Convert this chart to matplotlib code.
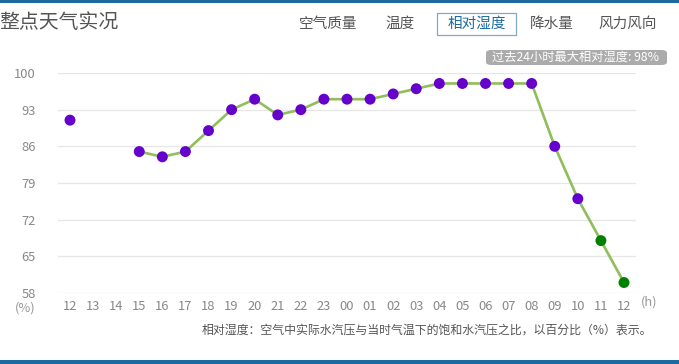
import numpy as np
import matplotlib
matplotlib.use("Agg")
import matplotlib.pyplot as plt
from matplotlib.patches import FancyBboxPatch, Rectangle

plt.rcParams['font.family'] = ['Noto Sans CJK SC', 'DejaVu Sans']

hours = ["12", "13", "14", "15", "16", "17", "18", "19", "20", "21", "22", "23",
         "00", "01", "02", "03", "04", "05", "06", "07", "08", "09", "10", "11", "12"]
humidity = [91, np.nan, np.nan, 85, 84, 85, 89, 93, 95, 92, 93, 95,
            95, 95, 96, 97, 98, 98, 98, 98, 98, 86, 76, 68, 60]
forecast_flags = [0] * 23 + [1, 1]
yticks = [58, 65, 72, 79, 86, 93, 100]
tabs = ["空气质量", "温度", "相对湿度", "降水量", "风力风向"]
tab_x = [328, 400, 477, 552, 628]

W, H = 679, 364
fig = plt.figure(figsize=(W / 100, H / 100), dpi=100)

def fx(px):
    return px / W

def fy(py):
    return 1 - py / H

ax = fig.add_axes([fx(58), fy(293), fx(636) - fx(58), fy(73) - fy(293)])
x = np.arange(len(hours))
y = np.array(humidity, dtype=float)
ax.plot(x, y, color="#8fbf5a", lw=1.9, zorder=2, clip_on=False)
cols = ["#008000" if f else "#6600cc" for f in forecast_flags]
ax.scatter(x, y, s=62, c=cols, zorder=3, clip_on=False, linewidths=0)

ax.set_xlim(-0.52, len(hours) - 1 + 0.52)
ax.set_ylim(58, 100)
ax.set_yticks(yticks)
ax.set_yticklabels([str(v) for v in yticks])
ax.set_xticks(x)
ax.set_xticklabels(hours)
ax.tick_params(axis='both', length=0, colors="#888888", labelsize=9.3)
ax.tick_params(axis='y', pad=16)
ax.tick_params(axis='x', pad=5)
ax.grid(axis='y', color="#e6e6e6", lw=0.9)
ax.set_axisbelow(True)
for s in ax.spines.values():
    s.set_visible(False)

fig.text(fx(25), fy(308), "(%)", color="#999999", fontsize=9.3, ha='center', va='center')
fig.text(fx(649), fy(302), "(h)", color="#999999", fontsize=9.3, ha='center', va='center')

# top / bottom bars
fig.add_artist(Rectangle((0, fy(2.5)), 1, fy(0) - fy(2.5), transform=fig.transFigure,
                         color="#1d6aa1", lw=0))
fig.add_artist(Rectangle((0, 0), 1, fy(360) - 0, transform=fig.transFigure,
                         color="#1d6aa1", lw=0))

# title
fig.text(fx(-1), fy(23), "整点天气实况", fontsize=14.3, color="#555555", ha='left', va='center')

# tabs
for t, cx in zip(tabs, tab_x):
    col = "#1d6aa1" if t == "相对湿度" else "#555555"
    fig.text(fx(cx), fy(24), t, fontsize=10.5, color=col, ha='center', va='center')
fig.add_artist(Rectangle((fx(437), fy(35)), fx(516) - fx(437), fy(13) - fy(35),
                         transform=fig.transFigure, fill=False, edgecolor="#7ea9c9", lw=0.9))

# badge
fig.add_artist(FancyBboxPatch((fx(486), fy(65)), fx(667) - fx(486), fy(50) - fy(65),
                              boxstyle="round,pad=0,rounding_size=0.008",
                              transform=fig.transFigure, facecolor="#ababab", edgecolor="none"))
fig.text(fx(576), fy(57.5), "过去24小时最大相对湿度: 98%", fontsize=8.8, color="white",
         ha='center', va='center')

# footnote
fig.text(fx(652), fy(330), "相对湿度：空气中实际水汽压与当时气温下的饱和水汽压之比，以百分比（%）表示。",
         fontsize=8.6, color="#555555", ha='right', va='center')

fig.savefig("out.png", dpi=100, facecolor="white")
